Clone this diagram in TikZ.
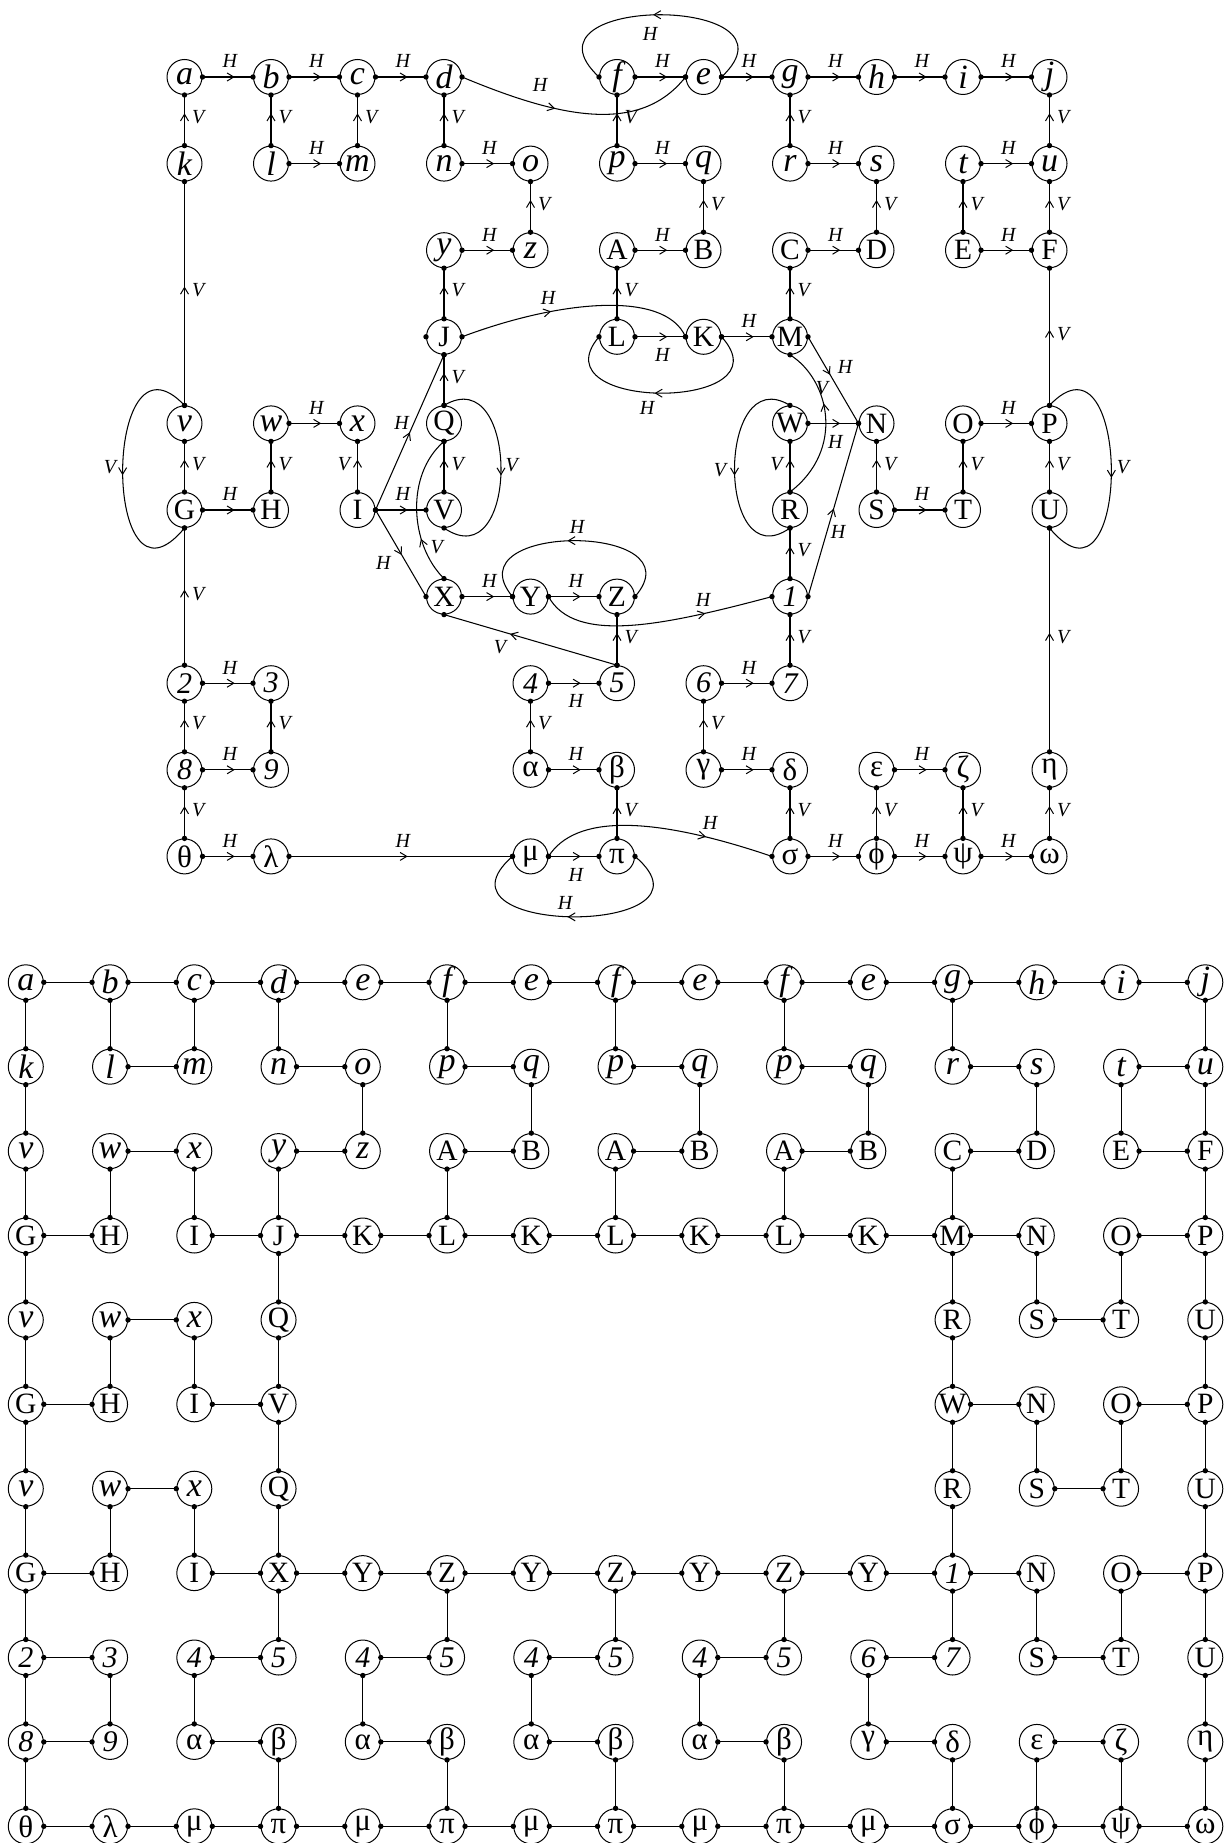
\documentclass[tikz,border=0pt]{standalone}
\usepackage{fontspec}
\setmainfont{Liberation Serif}
\usetikzlibrary{decorations.markings}
\newcommand\TopN[5]{\node[#1] (t#2) at ({184.5+86.5*#3},{77+86.6*#4}) {#5};}
\tikzset{
 nd/.style={circle, draw, line width=1pt, minimum size=35pt, inner sep=0pt},
 lc/.style={nd, font=\fontsize{34}{34}\selectfont\itshape},
 uc/.style={nd, font=\fontsize{29.5}{29.5}\selectfont},
 dg/.style={nd, font=\fontsize{30}{30}\selectfont\itshape},
 gk/.style={nd, font=\fontsize{31}{31}\selectfont},
 lb/.style={font=\fontsize{20}{20}\selectfont\itshape, inner sep=0pt},
 ed/.style={line width=1.05pt, postaction={decorate}, decoration={markings, mark=at position #1 with {\draw[line width=1pt] (-0.7,4) -- (6,0) -- (-0.7,-4);}}},
 ed/.default=0.5,
 ln/.style={line width=1.05pt},
}
\begin{document}
\begin{tikzpicture}[x=1pt,y=-1pt]
\useasboundingbox (0,0) rectangle (1231,1843);
% ---------------- top graph nodes
\TopN{lc}{a}{0}{0}{a}
\TopN{lc}{b}{1}{0}{b}
\TopN{lc}{c}{2}{0}{c}
\TopN{lc}{d}{3}{0}{d}
\TopN{lc}{f}{5}{0}{f}
\TopN{lc}{e}{6}{0}{e}
\TopN{lc}{g}{7}{0}{g}
\TopN{lc}{h}{8}{0}{h}
\TopN{lc}{i}{9}{0}{i}
\TopN{lc}{j}{10}{0}{j}
\TopN{lc}{k}{0}{1}{k}
\TopN{lc}{l}{1}{1}{l}
\TopN{lc}{m}{2}{1}{m}
\TopN{lc}{n}{3}{1}{n}
\TopN{lc}{o}{4}{1}{o}
\TopN{lc}{p}{5}{1}{p}
\TopN{lc}{q}{6}{1}{q}
\TopN{lc}{r}{7}{1}{r}
\TopN{lc}{s}{8}{1}{s}
\TopN{lc}{t}{9}{1}{t}
\TopN{lc}{u}{10}{1}{u}
\TopN{lc}{y}{3}{2}{y}
\TopN{lc}{z}{4}{2}{z}
\TopN{uc}{A}{5}{2}{A}
\TopN{uc}{B}{6}{2}{B}
\TopN{uc}{C}{7}{2}{C}
\TopN{uc}{D}{8}{2}{D}
\TopN{uc}{E}{9}{2}{E}
\TopN{uc}{F}{10}{2}{F}
\TopN{uc}{J}{3}{3}{J}
\TopN{uc}{L}{5}{3}{L}
\TopN{uc}{K}{6}{3}{K}
\TopN{uc}{M}{7}{3}{M}
\TopN{lc}{v}{0}{4}{v}
\TopN{lc}{w}{1}{4}{w}
\TopN{lc}{x}{2}{4}{x}
\TopN{uc}{Q}{3}{4}{Q}
\TopN{uc}{W}{7}{4}{W}
\TopN{uc}{N}{8}{4}{N}
\TopN{uc}{O}{9}{4}{O}
\TopN{uc}{P}{10}{4}{P}
\TopN{uc}{G}{0}{5}{G}
\TopN{uc}{H}{1}{5}{H}
\TopN{uc}{I}{2}{5}{I}
\TopN{uc}{V}{3}{5}{V}
\TopN{uc}{R}{7}{5}{R}
\TopN{uc}{S}{8}{5}{S}
\TopN{uc}{T}{9}{5}{T}
\TopN{uc}{U}{10}{5}{U}
\TopN{uc}{X}{3}{6}{X}
\TopN{uc}{Y}{4}{6}{Y}
\TopN{uc}{Z}{5}{6}{Z}
\TopN{dg}{1}{7}{6}{1}
\TopN{dg}{2}{0}{7}{2}
\TopN{dg}{3}{1}{7}{3}
\TopN{dg}{4}{4}{7}{4}
\TopN{dg}{5}{5}{7}{5}
\TopN{dg}{6}{6}{7}{6}
\TopN{dg}{7}{7}{7}{7}
\TopN{dg}{8}{0}{8}{8}
\TopN{dg}{9}{1}{8}{9}
\TopN{gk}{alpha}{4}{8}{α}
\TopN{gk}{beta}{5}{8}{β}
\TopN{gk}{gamma}{6}{8}{γ}
\TopN{gk}{delta}{7}{8}{δ}
\TopN{gk}{epsilon}{8}{8}{ε}
\TopN{gk}{zeta}{9}{8}{ζ}
\TopN{gk}{eta}{10}{8}{η}
\TopN{gk}{theta}{0}{9}{θ}
\TopN{gk}{lambda}{1}{9}{λ}
\TopN{gk}{mu}{4}{9}{μ}
\TopN{gk}{pi}{5}{9}{π}
\TopN{gk}{sigma}{7}{9}{σ}
\TopN{gk}{phi}{8}{9}{ϕ}
\TopN{gk}{psi}{9}{9}{ψ}
\TopN{gk}{omega}{10}{9}{ω}
% ---------------- straight H edges
\foreach \src/\dst in {a/b,b/c,c/d,f/e,e/g,g/h,h/i,i/j,l/m,n/o,p/q,r/s,t/u,y/z,A/B,C/D,E/F,K/M,w/x,G/H,I/V,O/P,S/T,X/Y,Y/Z,2/3,8/9,theta/lambda,lambda/mu,alpha/beta,6/7,gamma/delta,epsilon/zeta,sigma/phi,phi/psi,psi/omega}{
 \draw[ed] (t\src.east) -- node[lb,above=8.5pt,xshift=2pt] (lh\src\dst) {H} (t\dst.west);
 \fill (t\src.east) circle[radius=2.7pt] (t\dst.west) circle[radius=2.7pt];
}
\foreach \src/\dst in {L/K,W/N,4/5,mu/pi}{
 \draw[ed] (t\src.east) -- node[lb,below=11pt,xshift=2pt] (lh\src\dst) {H} (t\dst.west);
 \fill (t\src.east) circle[radius=2.7pt] (t\dst.west) circle[radius=2.7pt];
}
% ---------------- straight V edges
\foreach \src/\dst in {k/a,l/b,m/c,n/d,p/f,r/g,u/j,z/o,B/q,D/s,E/t,F/u,J/y,L/A,M/C,v/k,G/v,H/w,V/Q,Q/J,S/N,T/O,U/P,P/F,1/R,7/1,5/Z,2/G,8/2,9/3,theta/8,alpha/4,gamma/6,pi/beta,sigma/delta,phi/epsilon,psi/zeta,omega/eta,eta/U}{
 \draw[ed] (t\src.north) -- node[lb,right=7pt,yshift=3pt] (lv\src\dst) {V} (t\dst.south);
 \fill (t\src.north) circle[radius=2.7pt] (t\dst.south) circle[radius=2.7pt];
}
\foreach \src/\dst in {I/x,R/W}{
 \draw[ed] (t\src.north) -- node[lb,left=7pt,yshift=3pt] (lv\src\dst) {V} (t\dst.south);
 \fill (t\src.north) circle[radius=2.7pt] (t\dst.south) circle[radius=2.7pt];
}
% ---------------- curved / diagonal edges
\draw[ed=0.38] (td.east) .. controls (560,118) and (640,135) .. (te.west);
\node[lb] (lde) at (540,85) {H};
\draw[ed=0.5] (te.east) .. controls (810,-6) and (510,-6) .. (tf.west);
\node[lb] (lef) at (650,34) {H};
\draw[ed=0.36] (tJ.east) .. controls (560,300) and (665,290) .. (tK.west);
\node[lb] (lJK) at (548,298) {H};
\draw[ed=0.5] (tK.east) .. controls (790,412) and (535,412) .. (tL.west);
\node[lb] (lKL) at (647,407.5) {H};
\draw[ed=0.37] (tM.east) -- (tN.west);
\node[lb] (lMN) at (845,367) {H};
\draw[ed=0.47] (t1.east) -- (tN.west);
\node[lb] (l1N) at (838,532) {H};
\draw[ed=0.46] (tI.east) -- (tJ.south);
\node[lb] (lIJ) at (401.7,423.3) {H};
\draw[ed=0.45] (tI.east) -- (tX.west);
\node[lb] (lIX) at (383.3,563.3) {H};
\draw[ed=0.5] (tZ.east) .. controls (700,522) and (450,522) .. (tY.west);
\node[lb] (lZY) at (577,527) {H};
\draw[ed=0.68] (tY.east) .. controls (575,645) and (665,625) .. (t1.west);
\node[lb] (lY1) at (703,600) {H};
\draw[ed=0.68] (tmu.east) .. controls (575,815) and (650,815) .. (tsigma.west);
\node[lb] (lms) at (710,823) {H};
\draw[ed=0.5] (tpi.east) .. controls (730,937) and (420,937) .. (tmu.west);
\node[lb] (lpm) at (565,903) {H};
\draw[ed=0.58] (tR.north) .. controls (845,450) and (830,380) .. (tM.south);
\node[lb] (lRM) at (822,388) {V};
\draw[ed=0.26] (tX.north) .. controls (410,545) and (405,475) .. (tQ.south);
\node[lb] (lXQ) at (436.7,546.7) {V};
\draw[ed=0.58] (t5.north) -- (tX.south);
\node[lb] (l5X) at (500,646.7) {V};
\draw[ed=0.49] (tv.north) .. controls (102,318) and (102,628) .. (tG.south);
\node[lb] (lvG) at (110,466.7) {V};
\draw[ed=0.5] (tQ.north) .. controls (520,360) and (520,580) .. (tV.south);
\node[lb] (lQV) at (511.7,465) {V};
\draw[ed=0.5] (tW.north) .. controls (716,360) and (716,580) .. (tR.south);
\node[lb] (lWR) at (720,470) {V};
\draw[ed=0.5] (tP.north) .. controls (1132,318) and (1132,628) .. (tU.south);
\node[lb] (lPU) at (1123,466.7) {V};
\foreach \pp in {td.east,te.west,te.east,tf.west,tJ.east,tK.west,tK.east,tL.west,tM.east,tN.west,t1.east,tI.east,tJ.south,tX.west,tZ.east,tY.west,tY.east,t1.west,tmu.east,tsigma.west,tpi.east,tmu.west,tR.north,tM.south,tX.north,tQ.south,t5.north,tX.south,tv.north,tG.south,tQ.north,tV.south,tW.north,tR.south,tP.north,tU.south,tJ.west}
 \fill (\pp) circle[radius=2.7pt];
% ---------------- bottom grid nodes
\foreach \cc/\st/\tx in {0/lc/a,1/lc/b,2/lc/c,3/lc/d,4/lc/e,5/lc/f,6/lc/e,7/lc/f,8/lc/e,9/lc/f,10/lc/e,11/lc/g,12/lc/h,13/lc/i,14/lc/j}
 {\node[\st] (b\cc-0) at ({25.8+84.25*\cc},{982.3+84.4*0}) {\tx};}
\foreach \cc/\st/\tx in {0/lc/k,1/lc/l,2/lc/m,3/lc/n,4/lc/o,5/lc/p,6/lc/q,7/lc/p,8/lc/q,9/lc/p,10/lc/q,11/lc/r,12/lc/s,13/lc/t,14/lc/u}
 {\node[\st] (b\cc-1) at ({25.8+84.25*\cc},{982.3+84.4*1}) {\tx};}
\foreach \cc/\st/\tx in {0/lc/v,1/lc/w,2/lc/x,3/lc/y,4/lc/z,5/uc/A,6/uc/B,7/uc/A,8/uc/B,9/uc/A,10/uc/B,11/uc/C,12/uc/D,13/uc/E,14/uc/F}
 {\node[\st] (b\cc-2) at ({25.8+84.25*\cc},{982.3+84.4*2}) {\tx};}
\foreach \cc/\st/\tx in {0/uc/G,1/uc/H,2/uc/I,3/uc/J,4/uc/K,5/uc/L,6/uc/K,7/uc/L,8/uc/K,9/uc/L,10/uc/K,11/uc/M,12/uc/N,13/uc/O,14/uc/P}
 {\node[\st] (b\cc-3) at ({25.8+84.25*\cc},{982.3+84.4*3}) {\tx};}
\foreach \cc/\st/\tx in {0/lc/v,1/lc/w,2/lc/x,3/uc/Q,11/uc/R,12/uc/S,13/uc/T,14/uc/U}
 {\node[\st] (b\cc-4) at ({25.8+84.25*\cc},{982.3+84.4*4}) {\tx};}
\foreach \cc/\st/\tx in {0/uc/G,1/uc/H,2/uc/I,3/uc/V,11/uc/W,12/uc/N,13/uc/O,14/uc/P}
 {\node[\st] (b\cc-5) at ({25.8+84.25*\cc},{982.3+84.4*5}) {\tx};}
\foreach \cc/\st/\tx in {0/lc/v,1/lc/w,2/lc/x,3/uc/Q,11/uc/R,12/uc/S,13/uc/T,14/uc/U}
 {\node[\st] (b\cc-6) at ({25.8+84.25*\cc},{982.3+84.4*6}) {\tx};}
\foreach \cc/\st/\tx in {0/uc/G,1/uc/H,2/uc/I,3/uc/X,4/uc/Y,5/uc/Z,6/uc/Y,7/uc/Z,8/uc/Y,9/uc/Z,10/uc/Y,11/dg/1,12/uc/N,13/uc/O,14/uc/P}
 {\node[\st] (b\cc-7) at ({25.8+84.25*\cc},{982.3+84.4*7}) {\tx};}
\foreach \cc/\st/\tx in {0/dg/2,1/dg/3,2/dg/4,3/dg/5,4/dg/4,5/dg/5,6/dg/4,7/dg/5,8/dg/4,9/dg/5,10/dg/6,11/dg/7,12/uc/S,13/uc/T,14/uc/U}
 {\node[\st] (b\cc-8) at ({25.8+84.25*\cc},{982.3+84.4*8}) {\tx};}
\foreach \cc/\st/\tx in {0/dg/8,1/dg/9,2/gk/α,3/gk/β,4/gk/α,5/gk/β,6/gk/α,7/gk/β,8/gk/α,9/gk/β,10/gk/γ,11/gk/δ,12/gk/ε,13/gk/ζ,14/gk/η}
 {\node[\st] (b\cc-9) at ({25.8+84.25*\cc},{982.3+84.4*9}) {\tx};}
\foreach \cc/\st/\tx in {0/gk/θ,1/gk/λ,2/gk/μ,3/gk/π,4/gk/μ,5/gk/π,6/gk/μ,7/gk/π,8/gk/μ,9/gk/π,10/gk/μ,11/gk/σ,12/gk/ϕ,13/gk/ψ,14/gk/ω}
 {\node[\st] (b\cc-10) at ({25.8+84.25*\cc},{982.3+84.4*10}) {\tx};}
% ---------------- bottom grid edges
\foreach \rr/\cs in {0/{0,1,2,3,4,5,6,7,8,9,10,11,12,13},1/{1,3,5,7,9,11,13},2/{1,3,5,7,9,11,13},3/{0,2,3,4,5,6,7,8,9,10,11,13},4/{1,12},5/{0,2,11,13},6/{1,12},7/{0,2,3,4,5,6,7,8,9,10,11,13},8/{0,2,4,6,8,10,12},9/{0,2,4,6,8,10,12},10/{0,1,2,3,4,5,6,7,8,9,10,11,12,13}}{
 \foreach \cc in \cs {
  \pgfmathtruncatemacro\cn{\cc+1}
  \draw[ln] (b\cc-\rr.east) -- (b\cn-\rr.west);
  \fill (b\cc-\rr.east) circle[radius=2.7pt] (b\cn-\rr.west) circle[radius=2.7pt];
 }
}
\foreach \rr/\cs in {0/{0,1,2,3,5,7,9,11,14},1/{0,4,6,8,10,12,13,14},2/{0,1,2,3,5,7,9,11,14},3/{0,3,11,12,13,14},4/{0,1,2,3,11,14},5/{0,3,11,12,13,14},6/{0,1,2,3,11,14},7/{0,3,5,7,9,11,12,13,14},8/{0,1,2,4,6,8,10,14},9/{0,3,5,7,9,11,12,13,14}}{
 \foreach \cc in \cs {
  \pgfmathtruncatemacro\rn{\rr+1}
  \draw[ln] (b\cc-\rr.south) -- (b\cc-\rn.north);
  \fill (b\cc-\rr.south) circle[radius=2.7pt] (b\cc-\rn.north) circle[radius=2.7pt];
 }
}
\end{tikzpicture}
\end{document}
